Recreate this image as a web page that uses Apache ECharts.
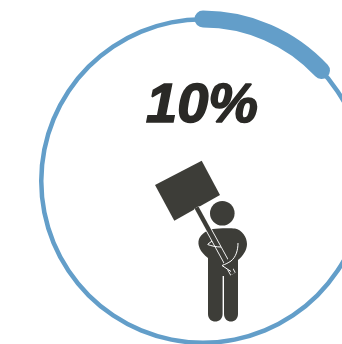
<!DOCTYPE html>
<html>
<head>
<meta charset="utf-8">
<style>html,body{margin:0;padding:0;background:#fff}#c{width:342px;height:344px}</style>
<script src="https://cdn.jsdelivr.net/npm/echarts@6/dist/echarts.min.js"></script>
</head>
<body>
<div id="c"></div>
<script>
// Share shown on the dial, and the length of the dial's scale.
const shareLabel = ['10%'];
const shareValues = [10];
const dialScale = [0, 76.6];

const blue = '#639ec9';
const ink = '#3d3d38';

// Protester pictogram, in page pixels.
const signPoints = [[201.7, 160.7], [220, 195], [174.3, 220.7], [155, 185]];
const bodyPath = 'M213 229 C218 228 231 228 235 228.5 C242 230 247 237 247 244 C247 250 243 256 238 260 L238 314 C238 324 224 324 224 314 L224 276 L222.6 276 L222.6 314 C222.6 324 208 324 208 314 L208 258 C200 252 197 245 199 239 C201 234 207 230 213 229 Z';
const handPath = 'M222 265 L230 257 L237 261 L234 268 L231 271 L224 268 Z';
const rightArmCrease = 'M238 243 C238 250 236 257 231 261 C228 263 226 264 222 265.5 L231 271.5';
const leftArmCrease = 'M208 244 L212 241 M207.5 244.5 C212 246 216 247 221 247';

echarts.graphic.registerShape('protesterBody', echarts.graphic.extendPath(bodyPath));
echarts.graphic.registerShape('protesterHand', echarts.graphic.extendPath(handPath));
echarts.graphic.registerShape('rightCrease', echarts.graphic.extendPath(rightArmCrease));
echarts.graphic.registerShape('leftCrease', echarts.graphic.extendPath(leftArmCrease));

const chart = echarts.init(document.getElementById('c'));

function dial(radius, width, cap, progress) {
  return {
    type: 'gauge',
    center: [203, 181],
    radius: radius,
    startAngle: 90,
    endAngle: -270,
    min: dialScale[0],
    max: dialScale[1],
    silent: true,
    animation: false,
    pointer: { show: false },
    axisTick: { show: false },
    splitLine: { show: false },
    axisLabel: { show: false },
    detail: { show: false },
    title: { show: false },
    axisLine: { show: !progress, lineStyle: { width: width, color: [[1, blue]] } },
    progress: { show: progress, width: width, roundCap: cap, itemStyle: { color: blue } },
    data: [{ value: shareValues[0] }]
  };
}

const pole = { x1: 196.5, y1: 207.5, x2: 233, y2: 274 };

chart.setOption({
  animation: false,
  backgroundColor: '#fff',
  series: [dial(164, 4.5, false, false), dial(170.5, 17, true, true)],
  graphic: [
    { type: 'text', x: 146, y: 79, style: { text: shareLabel[0], fontFamily: 'Arial', fontStyle: 'italic', fontWeight: 'bold', fontSize: 56, fill: '#2a2926', stroke: '#2a2926', lineWidth: 1.6 } },
    { type: 'polygon', shape: { points: signPoints }, style: { fill: ink } },
    { type: 'protesterBody', style: { fill: ink } },
    { type: 'circle', shape: { cx: 222.3, cy: 213.3, r: 12.3 }, style: { fill: ink } },
    { type: 'line', shape: pole, style: { stroke: '#fff', lineWidth: 6 } },
    { type: 'line', shape: pole, style: { stroke: ink, lineWidth: 4.5 } },
    { type: 'protesterHand', style: { fill: ink } },
    { type: 'rightCrease', style: { stroke: '#fff', lineWidth: 1, fill: null } },
    { type: 'leftCrease', style: { stroke: '#fff', lineWidth: 1, fill: null } }
  ]
});
</script>
</body>
</html>
